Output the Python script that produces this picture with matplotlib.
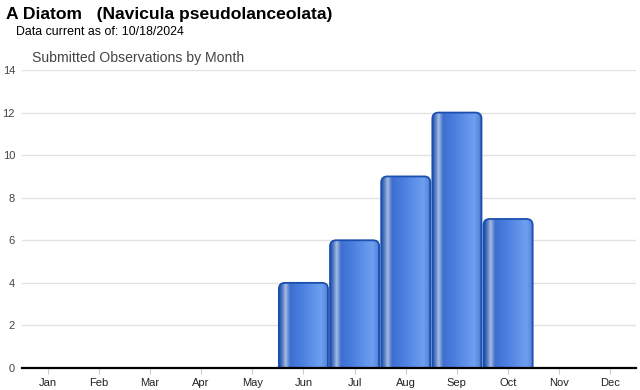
import numpy as np
import matplotlib.pyplot as plt
from matplotlib.patches import FancyBboxPatch
from matplotlib.colors import LinearSegmentedColormap

# Datos
months = ["Jan", "Feb", "Mar", "Apr", "May", "Jun",
          "Jul", "Aug", "Sep", "Oct", "Nov", "Dec"]
counts = [0, 0, 0, 0, 0, 4, 6, 9, 12, 7, 0, 0]
yticks = [0, 2, 4, 6, 8, 10, 12, 14]

fig = plt.figure(figsize=(6.4, 3.9), dpi=100)
fig.patch.set_facecolor("white")
ax = fig.add_axes([22/640, 22/390, 614/640, 298/390])

ax.set_xlim(-0.5, 11.5)
ax.set_ylim(0, 14)

# Gradiente tipo cilindro
grad = LinearSegmentedColormap.from_list("cyl", [
    (0.00, "#1d4ea6"),
    (0.07, "#5a80c8"),
    (0.13, "#a8bce0"),
    (0.22, "#3e6fd0"),
    (0.45, "#4a7fe0"),
    (0.85, "#6e9ff0"),
    (0.95, "#5a8ae0"),
    (1.00, "#2455b0"),
])
g = np.linspace(0, 1, 200).reshape(1, -1)

width = 0.96
for i, v in enumerate(counts):
    if v <= 0:
        continue
    x0 = i - width/2
    patch = FancyBboxPatch((x0, -0.5), width, v + 0.5,
                           boxstyle="round,pad=0,rounding_size=0.12",
                           mutation_aspect=2.4,
                           facecolor="none", edgecolor="#1a4fb0",
                           linewidth=1.3, zorder=3)
    ax.add_patch(patch)
    im = ax.imshow(g, cmap=grad, extent=(x0, x0 + width, -0.5, v),
                   aspect="auto", zorder=2, interpolation="bilinear")
    im.set_clip_path(patch)

ax.set_xlim(-0.5, 11.5)
ax.set_ylim(0, 14)

for y in yticks[1:]:
    ax.axhline(y, color="#e2e2e2", linewidth=1, zorder=1)
ax.axhline(0, color="black", linewidth=1.6, zorder=4, clip_on=False)

for s in ax.spines.values():
    s.set_visible(False)

ax.set_yticks(yticks)
ax.set_yticklabels([str(t) for t in yticks], fontsize=8, color="#444444",
                   fontfamily="Liberation Sans")
ax.tick_params(axis="y", length=0, pad=5)
ax.set_xticks(range(12))
ax.set_xticklabels(months, fontsize=8, color="#222222",
                   fontfamily="Liberation Sans")
ax.tick_params(axis="x", length=4, color="#cccccc", pad=3)

fig.text(6/640, 1 - 15/390, "A Diatom   (Navicula pseudolanceolata)",
         fontsize=12.6, fontweight="bold", fontfamily="Liberation Sans",
         va="center", ha="left")
fig.text(16/640, 1 - 32/390, "Data current as of: 10/18/2024",
         fontsize=8.9, fontfamily="Liberation Sans", va="center", ha="left")
fig.text(32/640, 1 - 58/390, "Submitted Observations by Month",
         fontsize=10.1, fontfamily="Liberation Sans", color="#444444",
         va="center", ha="left")

fig.savefig("out.png", dpi=100, facecolor="white")
